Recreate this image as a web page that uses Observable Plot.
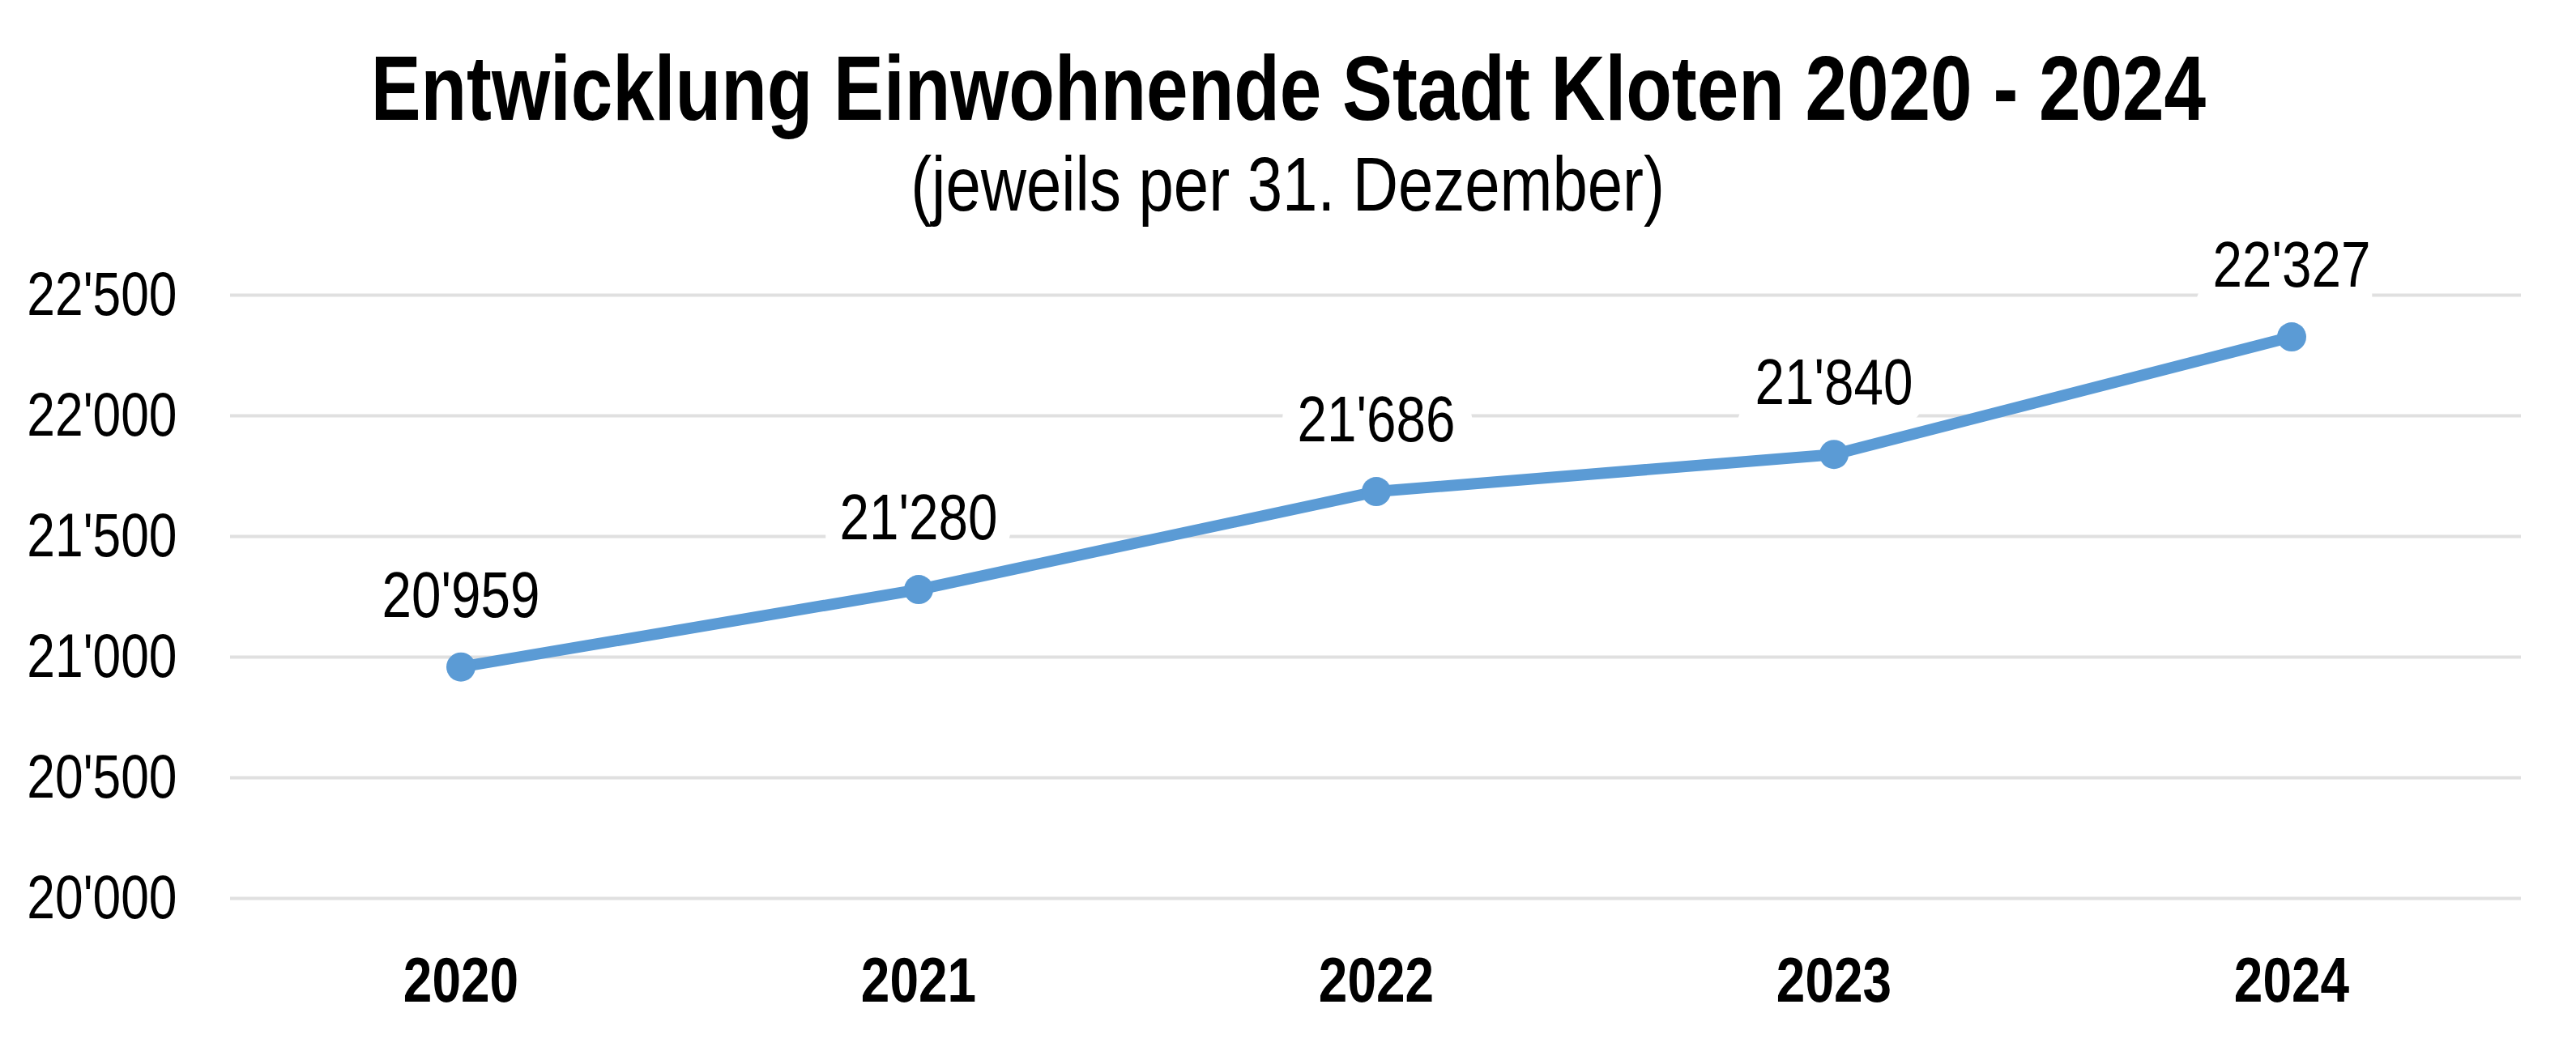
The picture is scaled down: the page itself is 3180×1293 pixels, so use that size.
<!DOCTYPE html>
<html>
<head>
<meta charset="utf-8">
<script src="https://cdn.jsdelivr.net/npm/d3@7"></script>
<script src="https://cdn.jsdelivr.net/npm/@observablehq/plot@0.6"></script>
<style>
  html, body { margin: 0; padding: 0; background: #fff; }
  body { width: 3180px; height: 1293px; overflow: hidden; font-family: "Liberation Sans", Arial, sans-serif; position: relative; }
  .ttl { position: absolute; left: 0; width: 3180px; text-align: center; white-space: nowrap; }
  .ttl span { display: inline-block; transform: scaleX(0.82); transform-origin: 50% 50%; }
  #t1 { top: 44px; font-size: 113px; font-weight: bold; line-height: 130px; }
  #t2 { top: 172px; font-size: 95px; line-height: 110px; }
  #chart { position: absolute; left: 0; top: 280px; }
</style>
</head>
<body>
<div id="t1" class="ttl"><span>Entwicklung Einwohnende Stadt Kloten 2020 - 2024</span></div>
<div id="t2" class="ttl"><span>(jeweils per 31. Dezember)</span></div>
<div id="chart"></div>
<script>
const years = ["2020", "2021", "2022", "2023", "2024"];
const population = [20959, 21280, 21686, 21840, 22327];
const yTicks = [20000, 20500, 21000, 21500, 22000, 22500];

const data = years.map((y, i) => ({year: y, value: population[i]}));
const fmt = d3.formatLocale({decimal: ".", thousands: "'", grouping: [3], currency: ["", ""]}).format(",");
const font = "'Liberation Sans', Arial, sans-serif";

const plot = Plot.plot({
  width: 3180,
  height: 1013,
  marginTop: 84,
  marginBottom: 184,
  marginLeft: 284,
  marginRight: 68,
  style: {fontFamily: font, background: "#fff", overflow: "visible"},
  x: {type: "band", domain: years, padding: 0, label: null},
  y: {domain: [20000, 22500], label: null},
  marks: [
    Plot.ruleY(yTicks, {stroke: "#E0E0E0", strokeWidth: 4}),
    Plot.axisY({ticks: yTicks, tickFormat: fmt, tickSize: 0, tickPadding: 66, fontSize: 76, label: null, fill: "#000"}),
    Plot.axisX({tickSize: 0, tickPadding: 72, fontSize: 78, fontWeight: "bold", label: null, fill: "#000"}),
    Plot.line(data, {x: "year", y: "value", stroke: "#5B9BD5", strokeWidth: 14, strokeLinejoin: "round"}),
    Plot.dot(data, {x: "year", y: "value", r: 18, fill: "#5B9BD5", stroke: "none"}),
    Plot.text(data, {x: "year", y: "value", text: d => fmt(d.value), dy: -62, lineAnchor: "bottom",
      fontSize: 80, fill: "#000", stroke: "#fff", strokeWidth: 50, strokeLinejoin: "miter", paintOrder: "stroke"})
  ]
});
document.getElementById("chart").appendChild(plot);

// Narrow (Arial Narrow-like) rendering: condense each text horizontally around its own anchor
plot.querySelectorAll("text").forEach(t => {
  const x = parseFloat(t.getAttribute("x") || "0");
  const tr = t.getAttribute("transform") || "";
  t.setAttribute("transform", `${tr} translate(${x},0) scale(0.82,1) translate(${-x},0)`.trim());
});
</script>
</body>
</html>
